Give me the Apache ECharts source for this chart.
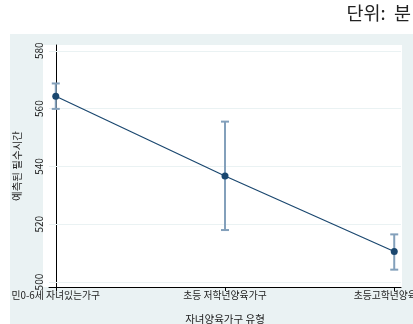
<!DOCTYPE html>
<html>
<head>
<meta charset="utf-8">
<script src="https://cdn.jsdelivr.net/npm/echarts@6/dist/echarts.min.js"></script>
<style>
  html, body { margin: 0; padding: 0; background: #fff; }
  #chart { width: 413px; height: 324px; }
</style>
</head>
<body>
<div id="chart"></div>
<script>
  // 자녀양육가구 유형별 예측된 필수시간 (단위: 분)
  var categories = ['민0-6세 자녀있는가구', '초등 저학년양육가구', '초등고학년양육가구'];
  var predicted = [564.3, 536.7, 510.6];
  var ciLower = [559.9, 518.0, 504.3];
  var ciUpper = [568.7, 555.5, 516.5];
  var yTicks = [500, 520, 540, 560, 580];

  var navy = '#1a476f';
  var barColor = '#83a0bb';
  var bgColor = '#eaf2f3';
  var font = '"Noto Sans CJK KR", "Noto Sans", sans-serif';

  var pointData = predicted.map(function (v, i) { return [i, v]; });
  var errData = predicted.map(function (v, i) { return [i, ciLower[i], ciUpper[i]]; });

  var chart = echarts.init(document.getElementById('chart'));
  chart.setOption({
    animation: false,
    backgroundColor: '#fff',
    graphic: [
      { type: 'rect', z: -10, shape: { x: 10, y: 34, width: 403, height: 290 }, style: { fill: bgColor } },
      { type: 'rect', z: -9, shape: { x: 43, y: 45, width: 359, height: 242 }, style: { fill: '#fff' } },
      { type: 'text', right: 2, top: 4, style: { text: '단위:  분', fontSize: 18.5, fontFamily: font, fill: '#222' } }
    ],
    grid: { left: 49, right: 12, top: 45, bottom: 37, outerBoundsMode: 'none', containLabel: false },
    xAxis: {
      type: 'value',
      min: -0.04,
      max: 2.04,
      name: '자녀양육가구 유형',
      nameLocation: 'middle',
      nameGap: 27,
      nameTextStyle: { fontSize: 10.5, fontFamily: font, color: '#222' },
      axisLine: { show: true, lineStyle: { color: '#000', width: 1 } },
      axisTick: { show: true, length: 4, customValues: [0, 1, 2], lineStyle: { color: '#000' } },
      axisLabel: {
        customValues: [0, 1, 2],
        formatter: function (v) { return categories[Math.round(v)]; },
        fontSize: 9.8, fontFamily: font, color: '#222', margin: 3
      },
      splitLine: { show: false }
    },
    yAxis: {
      type: 'value',
      min: 498.3,
      max: 582,
      name: '예측된 필수시간',
      nameLocation: 'middle',
      nameGap: 27,
      nameTextStyle: { fontSize: 10.5, fontFamily: font, color: '#222' },
      axisLine: { show: true, lineStyle: { color: '#000', width: 1 } },
      axisTick: { show: true, length: 4, customValues: yTicks, lineStyle: { color: '#000' } },
      axisLabel: {
        customValues: yTicks,
        rotate: 90,
        fontSize: 10, fontFamily: font, color: '#222', margin: 5
      },
      splitLine: { show: false }
    },
    series: [
      {
        type: 'line',
        data: pointData,
        symbol: 'circle',
        symbolSize: 7,
        itemStyle: { color: navy },
        lineStyle: { color: navy, width: 1.2 },
        z: 5,
        markLine: {
          silent: true,
          symbol: 'none',
          label: { show: false },
          lineStyle: { color: bgColor, type: 'solid', width: 1 },
          data: yTicks.map(function (t) { return { yAxis: t }; }),
          z: 1
        }
      },
      {
        type: 'custom',
        data: errData,
        z: 3,
        renderItem: function (params, api) {
          var lo = api.coord([api.value(0), api.value(1)]);
          var hi = api.coord([api.value(0), api.value(2)]);
          var w = 4;
          var st = { stroke: barColor, lineWidth: 2 };
          return {
            type: 'group',
            children: [
              { type: 'line', shape: { x1: lo[0], y1: lo[1], x2: hi[0], y2: hi[1] }, style: st },
              { type: 'line', shape: { x1: lo[0] - w, y1: lo[1], x2: lo[0] + w, y2: lo[1] }, style: st },
              { type: 'line', shape: { x1: hi[0] - w, y1: hi[1], x2: hi[0] + w, y2: hi[1] }, style: st }
            ]
          };
        }
      }
    ]
  });
</script>
</body>
</html>
